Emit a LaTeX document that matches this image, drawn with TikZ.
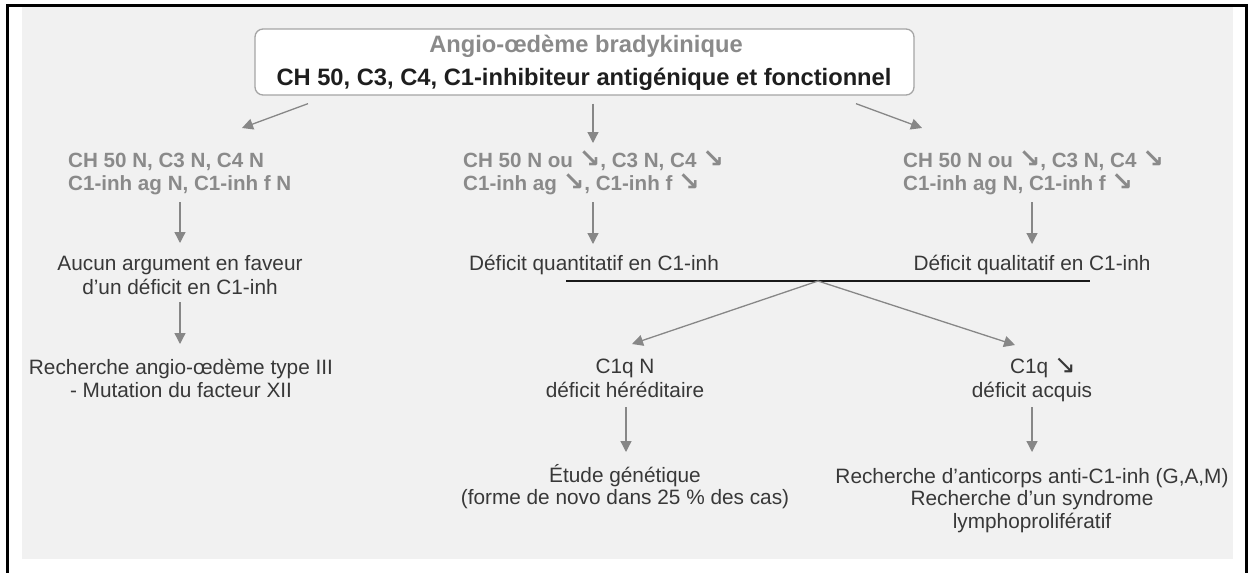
\documentclass[tikz,border=0pt]{standalone}
\usepackage{fontspec}
\setmainfont{Liberation Sans}
\newfontfamily\symf{DejaVu Sans}
\usetikzlibrary{arrows.meta,calc}
\definecolor{bgray}{HTML}{F1F1F1}
\definecolor{lbl}{HTML}{8A8A8A}
\definecolor{ink}{HTML}{383838}
\definecolor{dark}{HTML}{1E1E1E}
\definecolor{arrowc}{HTML}{878787}
\definecolor{boxline}{HTML}{A5A5A5}
% decreasing arrow
\newcommand{\dn}{{\scalebox{1.25}{\symf\char"2198}}}
\begin{document}
\begin{tikzpicture}[x=1pt,y=-1pt,
  gbold/.style={font=\fontsize{20.6}{23}\selectfont\bfseries, text=lbl, inner sep=0pt, align=left, anchor=base west},
  plain/.style={font=\fontsize{20.8}{23}\selectfont, text=ink, inner sep=0pt, align=center, anchor=base},
  wide/.style={font=\fontsize{20.8}{24}\selectfont},
  tight/.style={font=\fontsize{20.8}{22.5}\selectfont},
  conn/.style={draw=arrowc, line width=1.3pt, -{Triangle[length=11pt,width=11pt]}},
  titlebox/.style={draw=boxline, line width=1.3pt, fill=white, rounded corners=8pt, inner sep=0pt},
  bar/.style={draw=black!90, line width=2.4pt}]
\useasboundingbox (0,0) rectangle (1248,573);
% background and frame
\fill[bgray] (22,7) rectangle (1233,559);
\draw[line width=3pt] (7.5,573) -- (7.5,5) -- (1246.5,5) -- (1246.5,573);

% title box
\node[titlebox, minimum width=659pt, minimum height=66pt] (box) at (584.5,62) {};
\node[font=\fontsize{23.7}{28}\selectfont\bfseries, text=lbl, inner sep=0pt, anchor=base] (t1) at (586,52) {Angio-œdème bradykinique};
\node[font=\fontsize{23.7}{28}\selectfont\bfseries, text=dark, inner sep=0pt, anchor=base] (t2) at (584,85) {CH 50, C3, C4, C1-inhibiteur antigénique et fonctionnel};

% first level results (anchored on the last line)
\node[gbold] (l1) at (68,190) {CH 50 N, C3 N, C4 N\\C1-inh ag N, C1-inh f N};
\node[gbold] (m1) at (463,190) {CH 50 N ou \dn, C3 N, C4 \dn\\C1-inh ag \dn, C1-inh f \dn};
\node[gbold] (r1) at (903,190) {CH 50 N ou \dn, C3 N, C4 \dn\\C1-inh ag N, C1-inh f \dn};

% interpretations
\node[plain, wide] (l2) at (180,294) {Aucun argument en faveur\\d’un déficit en C1-inh};
\node[plain] (m2) at (594,270) {Déficit quantitatif en C1-inh};
\node[plain] (r2) at (1032,270) {Déficit qualitatif en C1-inh};
\node[plain] (l3) at (181,397) {Recherche angio-œdème type III\\- Mutation du facteur XII};

% C1q branches
\node[plain, wide] (c1) at (625,397) {C1q N\\déficit héréditaire};
\node[plain, wide] (c2) at (1032,397) {\hspace*{22pt}C1q \dn\\déficit acquis};
\node[plain, tight] (e1) at (625,504.5) {Étude génétique\\(forme de novo dans 25 \% des cas)};
\node[plain, tight] (e2) at (1032,528) {Recherche d’anticorps anti-C1-inh (G,A,M)\\Recherche d’un syndrome\\lymphoprolifératif};

% connectors from the title box
\draw[conn] ($(box.south)+(-276.5,8)$) -- ($(l1.base west)+(174,-62)$);
\draw[conn] ($(box.south)+(8.5,8)$) -- ($(m1.base west)+(130,-47)$);
\draw[conn] ($(box.south)+(271.5,8)$) -- ($(r1.base west)+(19,-62)$);

% downward connectors
\draw[conn] ($(l1.base west)+(112,12)$) -- ($(l2.base)+(0,-51)$);
\draw[conn] ($(m1.base west)+(130,12)$) -- ($(m2.base)+(-1,-26)$);
\draw[conn] ($(r1.base west)+(129,12)$) -- ($(r2.base)+(0,-26)$);
\draw[conn] ($(l2.base)+(0,8)$) -- ($(l3.base)+(-1,-53)$);

% joining bar and its split
\draw[bar] ($(m2.base)+(-28,11)$) -- ($(r2.base)+(58,11)$);
\coordinate (split) at ($(m2.base)+(224,11)$);
\draw[conn] (split) -- ($(c1.base)+(7,-53)$);
\draw[conn] (split) -- ($(c2.base)+(-17,-52)$);

\draw[conn] ($(c1.base)+(1,10)$) -- ($(e1.base)+(1,-52.5)$);
\draw[conn] ($(c2.base)+(0,10)$) -- ($(e2.base)+(0,-76)$);
\end{tikzpicture}
\end{document}
